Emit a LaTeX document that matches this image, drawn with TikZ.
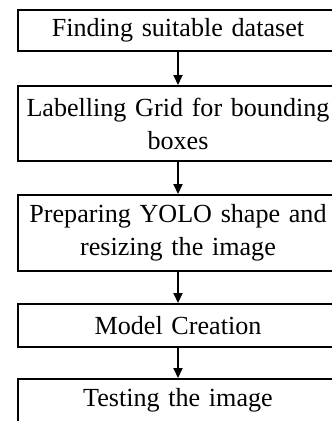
\documentclass[tikz,border=0pt]{standalone}
\usepackage{fontspec}
\setmainfont{Liberation Serif}
\usetikzlibrary{arrows.meta}
\begin{document}
\begin{tikzpicture}[x=1pt,y=-1pt,
  stepbox/.style={draw=black, line width=2pt, rectangle, minimum width=320pt,
    text width=316pt, inner sep=0pt, align=center,
    font=\fontsize{26.1pt}{33pt}\selectfont},
  flow/.style={line width=2pt, -{Triangle[length=10pt,width=9pt]}}]
\useasboundingbox (0,0) rectangle (332,421);
\node[stepbox, minimum height=41pt] (b1) at (178,30.5) {Finding suitable dataset};
\node[stepbox, minimum height=75pt] (b2) at (178,123.5) {Labelling Grid for bounding\\boxes};
\node[stepbox, minimum height=76pt] (b3) at (178,233) {Preparing YOLO shape and\\resizing the image};
\node[stepbox, minimum height=43pt] (b4) at (178,325.5) {Model Creation};
\node[stepbox, minimum height=43pt] (b5) at (178,400.5) {Testing the image};
\draw[flow] (b1.south) -- (b2.north);
\draw[flow] (b2.south) -- (b3.north);
\draw[flow] (b3.south) -- (b4.north);
\draw[flow] (b4.south) -- (b5.north);
\end{tikzpicture}
\end{document}
